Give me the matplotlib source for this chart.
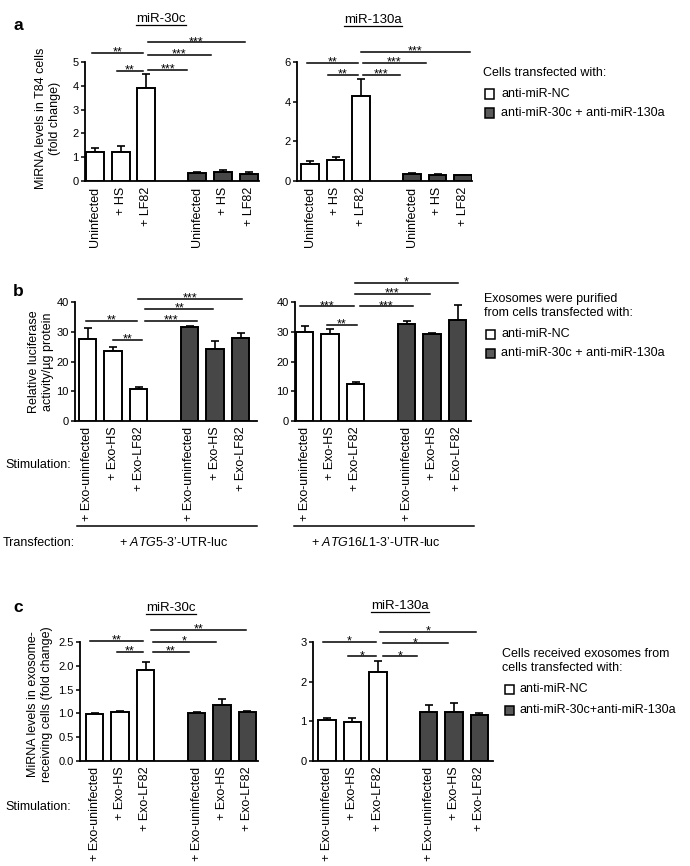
import matplotlib
matplotlib.use('Agg')
import matplotlib.pyplot as plt
from matplotlib.patches import Rectangle
from matplotlib.lines import Line2D
import numpy as np

plt.rcParams['font.family'] = ['Liberation Sans', 'DejaVu Sans']
plt.rcParams['mathtext.fontset'] = 'custom'
plt.rcParams['mathtext.rm'] = 'Liberation Sans'
plt.rcParams['mathtext.it'] = 'Liberation Sans:italic'

# ---------------- data ----------------
positions = [0, 1, 2, 4, 5, 6]
bar_colors = ['white'] * 3 + ['#474747'] * 3

a_labels = ['Uninfected', '+ HS', '+ LF82'] * 2
exo_labels = ['+ Exo-uninfected', '+ Exo-HS', '+ Exo-LF82'] * 2

a30_vals = [1.23, 1.22, 3.9, 0.32, 0.39, 0.3]
a30_err = [0.16, 0.26, 0.6, 0.06, 0.09, 0.06]
a130_vals = [0.86, 1.04, 4.3, 0.33, 0.32, 0.28]
a130_err = [0.14, 0.19, 0.82, 0.05, 0.04, 0.04]

b5_vals = [27.7, 23.6, 10.6, 31.6, 24.2, 27.8]
b5_err = [3.4, 1.4, 0.8, 0.5, 2.7, 1.9]
b16_vals = [30.0, 29.3, 12.3, 32.6, 29.2, 34.0]
b16_err = [1.8, 1.5, 0.7, 1.0, 0.3, 5.0]

c30_vals = [0.98, 1.03, 1.91, 1.0, 1.17, 1.03]
c30_err = [0.02, 0.02, 0.17, 0.02, 0.14, 0.02]
c130_vals = [1.03, 0.99, 2.25, 1.23, 1.23, 1.16]
c130_err = [0.05, 0.09, 0.26, 0.18, 0.23, 0.04]

# significance brackets: (x_start, x_end, y, label) in data units
a30_sig = [(-0.12, 1.88, 5.38, '**'), (0.86, 1.88, 4.62, '**'), (2.07, 3.6, 4.68, '***'),
           (2.07, 4.53, 5.3, '***'), (2.07, 5.86, 5.82, '***')]
a130_sig = [(-0.12, 1.88, 5.95, '**'), (0.7, 1.88, 5.35, '**'), (2.08, 3.53, 5.35, '***'),
            (2.08, 4.55, 5.95, '***'), (2.0, 6.27, 6.5, '***')]
b5_sig = [(-0.06, 1.93, 33.6, '**'), (1.0, 2.13, 27.2, '**'), (2.25, 4.3, 33.6, '***'),
          (2.25, 4.94, 37.6, '**'), (1.97, 6.07, 41.0, '***')]
b16_sig = [(-0.18, 1.94, 38.6, '***'), (0.88, 2.06, 32.3, '**'), (2.18, 4.25, 38.6, '***'),
           (1.98, 4.92, 42.7, '***'), (1.98, 6.02, 46.4, '*')]
c30_sig = [(-0.18, 1.9, 2.52, '**'), (0.88, 1.9, 2.29, '**'), (2.29, 3.7, 2.29, '**'),
           (2.29, 4.78, 2.5, '*'), (2.2, 5.96, 2.75, '**')]
c130_sig = [(-0.16, 1.92, 3.0, '*'), (0.82, 1.92, 2.64, '*'), (2.19, 3.56, 2.64, '*'),
            (2.19, 4.75, 2.97, '*'), (2.07, 5.88, 3.25, '*')]

W, H = 690, 866
fig = plt.figure(figsize=(W / 100, H / 100), dpi=100)
FS = 9


def fx(px):
    return px / W


def fy(py):
    return 1 - py / H


def panel(xl, xr, c1, ybot, ytop, vals, errs, ymax, yticks, ytl, xlabels, sigs, sp=25.5):
    ax = fig.add_axes([fx(xl), fy(ybot), (xr - xl) / W, (ybot - ytop) / H])
    ax.bar(positions, vals, width=0.7, color=bar_colors, edgecolor='black', linewidth=1.4, zorder=3)
    ax.errorbar(positions, vals, yerr=[np.zeros(len(vals)), errs], fmt='none', ecolor='black',
                elinewidth=1.2, capsize=3, capthick=1.2, zorder=2)
    ax.set_xlim(-(c1 - xl) / sp, (xr - c1) / sp)
    ax.set_ylim(0, ymax)
    for s in ['top', 'right']:
        ax.spines[s].set_visible(False)
    for s in ['left', 'bottom']:
        ax.spines[s].set_linewidth(1.3)
    ax.set_yticks(yticks)
    ax.set_yticklabels(ytl, fontsize=8)
    ax.tick_params(axis='y', length=3, width=1.1, pad=1.5)
    ax.set_xticks(positions)
    ax.set_xticklabels(xlabels, rotation=90, fontsize=FS, va='top')
    ax.tick_params(axis='x', length=0, pad=4)
    for x0, x1, y, lab in sigs:
        ax.plot([x0, x1], [y, y], color='black', lw=1.1, clip_on=False)
        ax.annotate(lab, xy=((x0 + x1) / 2, y), xytext=(0, -2), textcoords='offset points',
                    ha='center', va='baseline', fontsize=9, annotation_clip=False)
    ax.patch.set_alpha(0)
    return ax


# panel a
panel(85, 259, 95, 181, 62, a30_vals, a30_err, 5, [0, 1, 2, 3, 4, 5],
      ['0', '1', '2', '3', '4', '5'], a_labels, a30_sig, sp=25.6)
panel(297, 472, 310, 181, 62, a130_vals, a130_err, 6, [0, 2, 4, 6],
      ['0', '2', '4', '6'], a_labels, a130_sig)
# panel b
panel(75, 257, 87.5, 421, 302, b5_vals, b5_err, 40, [0, 10, 20, 30, 40],
      ['0', '10', '20', '30', '40'], exo_labels, b5_sig)
panel(295, 471, 304.5, 421, 302, b16_vals, b16_err, 40, [0, 10, 20, 30, 40],
      ['0', '10', '20', '30', '40'], exo_labels, b16_sig)
# panel c
panel(80, 258, 94.5, 761, 642, c30_vals, c30_err, 2.5, [0, 0.5, 1.0, 1.5, 2.0, 2.5],
      ['0.0', '0.5', '1.0', '1.5', '2.0', '2.5'], exo_labels, c30_sig)
panel(313, 493, 327, 761, 642, c130_vals, c130_err, 3, [0, 1, 2, 3],
      ['0', '1', '2', '3'], exo_labels, c130_sig, sp=25.4)

# panel letters
for lab, x, y in [('a', 13, 26), ('b', 13, 291), ('c', 13, 607)]:
    fig.text(fx(x), fy(y), lab, fontsize=12.5, fontweight='bold', ha='left', va='center')

# y labels
fig.text(fx(48), fy(118), 'MiRNA levels in T84 cells\n(fold change)', rotation=90,
         ha='center', va='center', multialignment='center', fontsize=FS, linespacing=1.3)
fig.text(fx(41), fy(362), 'Relative luciferase\nactivity/µg protein', rotation=90,
         ha='center', va='center', multialignment='center', fontsize=FS, linespacing=1.3)
fig.text(fx(40), fy(704), 'MiRNA levels in exosome-\nreceiving cells (fold change)', rotation=90,
         ha='center', va='center', multialignment='center', fontsize=FS, linespacing=1.3)

# underlined titles
titles = []
for lab, x, y in [('miR-30c', 161, 19), ('miR-130a', 373, 20), ('miR-30c', 171, 608), ('miR-130a', 400, 606)]:
    titles.append(fig.text(fx(x), fy(y), lab, fontsize=9.5, ha='center', va='center'))
renderer = fig.canvas.get_renderer()
for t in titles:
    bb = t.get_window_extent(renderer=renderer)
    yline = (bb.y0 + 0.5) / H
    fig.add_artist(Line2D([bb.x0 / W, bb.x1 / W], [yline, yline], color='black', lw=0.9,
                          transform=fig.transFigure))

# stimulation / transfection
fig.text(fx(5), fy(465), 'Stimulation:', fontsize=FS, ha='left', va='center')
fig.text(fx(5), fy(807), 'Stimulation:', fontsize=FS, ha='left', va='center')
fig.text(fx(3), fy(543), 'Transfection:', fontsize=FS, ha='left', va='center')
for x0, x1 in [(77, 257), (294, 474)]:
    fig.add_artist(Line2D([fx(x0), fx(x1)], [fy(526), fy(526)], color='black', lw=1.1,
                          transform=fig.transFigure))
fig.text(fx(173), fy(543), r'+ $\it{ATG5}$-3’-UTR-luc', fontsize=FS, ha='center', va='center')
fig.text(fx(376), fy(543), r'+ $\it{ATG16L1}$-3’-UTR-luc', fontsize=FS, ha='center', va='center')


def legend(x_title, title, title_y, sq_x, text_x, items):
    fig.text(fx(x_title), fy(title_y), title, fontsize=FS, ha='left', va='center', linespacing=1.3)
    for (lab, col, y) in items:
        fig.add_artist(Rectangle((fx(sq_x), fy(y + 4.5)), 9 / W, 9 / H, facecolor=col, edgecolor='black',
                                 lw=1.1, transform=fig.transFigure))
        fig.text(fx(text_x), fy(y), lab, fontsize=FS, ha='left', va='center')


legend(483, 'Cells transfected with:', 73, 485, 501,
       [('anti-miR-NC', 'white', 94), ('anti-miR-30c + anti-miR-130a', '#5a5a5a', 113)])
legend(484, 'Exosomes were purified\nfrom cells transfected with:', 306, 486, 501,
       [('anti-miR-NC', 'white', 334), ('anti-miR-30c + anti-miR-130a', '#5a5a5a', 353)])
legend(502, 'Cells received exosomes from\ncells transfected with:', 661, 505, 519,
       [('anti-miR-NC', 'white', 689), ('anti-miR-30c+anti-miR-130a', '#5a5a5a', 710)])

fig.savefig('out.png', dpi=100)
